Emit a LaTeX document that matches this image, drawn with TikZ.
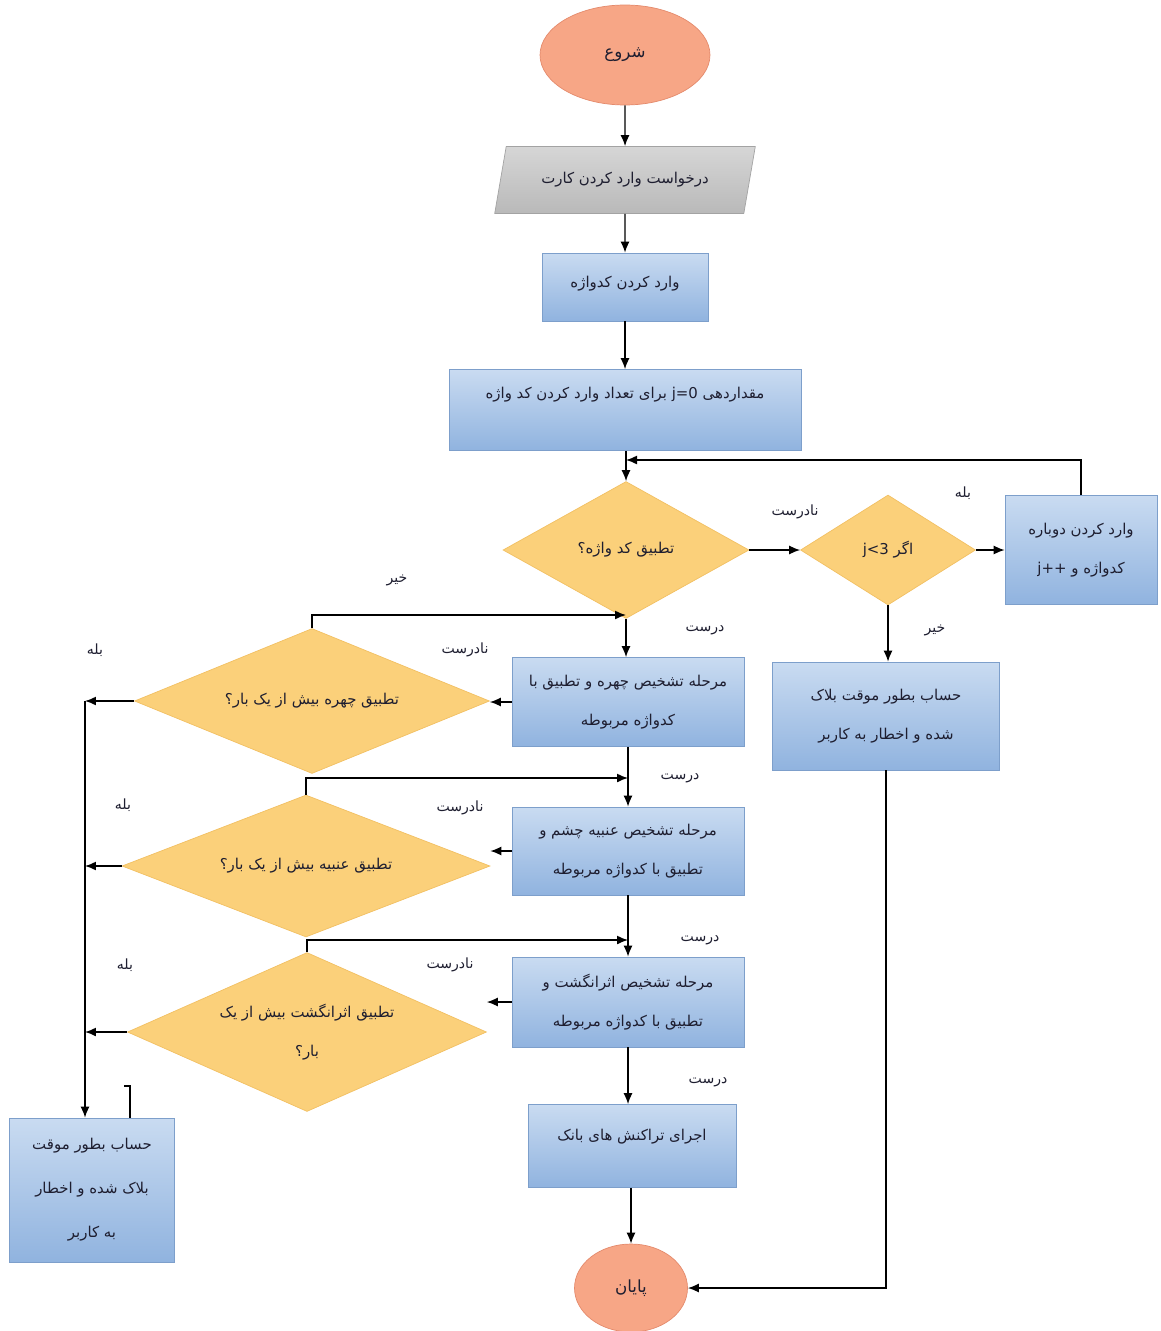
\documentclass[tikz,border=0pt]{standalone}
\usepackage{fontspec}
\usetikzlibrary{shapes.geometric,arrows.meta}
\newfontfamily\fa[Script=Arabic]{DejaVu Sans}
\TeXXeTstate=1
\newcommand{\fat}[1]{{\fa\beginR #1\endR}}
\definecolor{boxtop}{HTML}{C9DBF1}
\definecolor{boxbot}{HTML}{90B3DF}
\definecolor{boxline}{HTML}{7D9FCB}
\definecolor{decfill}{HTML}{FBD07A}
\definecolor{decline}{HTML}{F2C063}
\definecolor{termfill}{HTML}{F7A686}
\definecolor{termline}{HTML}{E48A6C}
\definecolor{iotop}{HTML}{D6D6D6}
\definecolor{iobot}{HTML}{B9B9B9}
\definecolor{ioline}{HTML}{A3A3A3}
\definecolor{ink}{HTML}{1E1E30}
\begin{document}
\begin{tikzpicture}[x=0.02cm,y=-0.02cm,
  every node/.style={text=ink},
  proc/.style={rectangle, draw=boxline, top color=boxtop, bottom color=boxbot, inner sep=2pt, align=center,
    font=\fontsize{8.5}{22}\selectfont},
  dec/.style={diamond, draw=decline, fill=decfill, inner sep=0pt, align=center,
    font=\fontsize{8.5}{22}\selectfont},
  term/.style={ellipse, draw=termline, fill=termfill, font=\fontsize{9.5}{12}\selectfont},
  io/.style={trapezium, trapezium left angle=72, trapezium right angle=108, trapezium stretches=true,
    draw=ioline, top color=iotop, bottom color=iobot, font=\fontsize{8.5}{12}\selectfont},
  arr/.style={-{Latex[length=0.22cm,width=0.18cm]}, line width=0.8pt},
  ln/.style={line width=0.8pt},
  lbl/.style={font=\fontsize{8}{10}\selectfont, inner sep=1pt}]
\useasboundingbox (0,0) rectangle (1160,1331);

% nodes
\node[term, minimum width=3.4cm, minimum height=2cm] (start) at (625,55) {\fat{شروع}};
\node[io, minimum width=5.22cm, minimum height=1.34cm] (card) at (625,180) {\fat{درخواست وارد کردن کارت}};
\node[proc, minimum width=3.32cm, minimum height=1.36cm, text depth=0.2cm] (pw) at (625,287) {\fat{وارد کردن کدواژه}};
\node[proc, minimum width=7.04cm, minimum height=1.62cm, text depth=0.68cm] (init) at (625,410)
  {\fat{مقداردهی \beginL j=0\endL{} برای تعداد وارد کردن کد واژه}};
\node[dec, aspect=1.8, minimum width=4.92cm, minimum height=2.74cm] (dec1) at (626,550) {\fat{تطبیق کد واژه؟}};
\node[dec, aspect=1.6, minimum width=3.5cm, minimum height=2.2cm] (dec2) at (888,550) {\fat{اگر \beginL j<3\endL}};
\node[proc, minimum width=3.04cm, minimum height=2.18cm] (again) at (1081,550)
  {\fat{وارد کردن دوباره}\\\fat{کدواژه و \beginL j++\endL}};
\node[proc, minimum width=4.54cm, minimum height=2.16cm] (block1) at (886,716)
  {\fat{حساب بطور موقت بلاک}\\\fat{شده و اخطار به کاربر}};
\node[proc, minimum width=4.64cm, minimum height=1.78cm] (face) at (628,702)
  {\fat{مرحله تشخیص چهره و تطبیق با}\\\fat{کدواژه مربوطه}};
\node[dec, aspect=2.45, minimum width=7.1cm, minimum height=2.9cm] (dec3) at (312,701) {\fat{تطبیق چهره بیش از یک بار؟}};
\node[proc, minimum width=4.64cm, minimum height=1.76cm] (iris) at (628,851)
  {\fat{مرحله تشخیص عنبیه چشم و}\\\fat{تطبیق با کدواژه مربوطه}};
\node[dec, aspect=2.6, minimum width=7.36cm, minimum height=2.84cm] (dec4) at (306,866) {\fat{تطبیق عنبیه بیش از یک بار؟}};
\node[proc, minimum width=4.64cm, minimum height=1.8cm] (finger) at (628,1002)
  {\fat{مرحله تشخیص اثرانگشت و}\\\fat{تطبیق با کدواژه مربوطه}};
\node[dec, aspect=2.26, minimum width=7.18cm, minimum height=3.18cm] (dec5) at (307,1032)
  {\fat{تطبیق اثرانگشت بیش از یک}\\\fat{بار؟}};
\node[proc, minimum width=4.16cm, minimum height=1.66cm, text depth=0.44cm] (bank) at (632,1146)
  {\fat{اجرای تراکنش های بانک}};
\node[term, minimum width=2.26cm, minimum height=1.76cm] (endn) at (631,1288) {\fat{پایان}};
\node[proc, minimum width=3.3cm, minimum height=2.88cm, font=\fontsize{8.5}{25}\selectfont] (block2) at (92,1190)
  {\fat{حساب بطور موقت}\\\fat{بلاک شده و اخطار}\\\fat{به کاربر}};

% helper coordinates
\coordinate (loop) at (626,460);
\coordinate (back1) at (626,615);
\coordinate (back2) at (628,778);
\coordinate (back3) at (628,940);
\coordinate (yesx) at (85,0);
\coordinate (stubA) at (124,1086);
\coordinate (stubB) at (130,1118);

% connectors
\draw[arr] (start) -- (card);
\draw[arr] (card) -- (pw);
\draw[arr] (pw) -- (init);
\draw[arr] (init.south -| dec1) -- (dec1.north);
\draw[arr] (again.north) |- (loop);
\draw[arr] (dec1.east) -- (dec2.west);
\draw[arr] (dec2.east) -- (again.west);
\draw[arr] (dec2.south) -- (block1.north -| dec2.south);
\draw[arr] (block1.south) |- (endn.east);
\draw[arr] (dec1.south) -- (face.north -| dec1.south);
\draw[arr] (face.west) -- (dec3.east |- face.west);
\draw[arr] (dec3.north) |- (back1);
\draw[arr] (dec3.west) -- (dec3.west -| yesx);
\draw[arr] (dec3.west -| yesx) -- (block2.north -| yesx);
\draw[arr] (face.south) -- (iris.north);
\draw[arr] (dec4.north) |- (back2);
\draw[arr] (iris.west) -- (dec4.east |- iris.west);
\draw[arr] (dec4.west) -- (dec4.west -| yesx);
\draw[arr] (iris.south) -- (finger.north);
\draw[arr] (dec5.north) |- (back3);
\draw[arr] (finger.west) -- (dec5.east |- finger.west);
\draw[arr] (dec5.west) -- (dec5.west -| yesx);
\draw[arr] (finger.south) -- (bank.north -| finger.south);
\draw[arr] (bank.south -| endn.north) -- (endn.north);
\draw[ln] (stubA) -| (stubB);

% labels
\node[lbl] (l1) at (795,512) {\fat{نادرست}};
\node[lbl] (l2) at (963,493) {\fat{بله}};
\node[lbl] (l3) at (935,630) {\fat{خیر}};
\node[lbl] (l4) at (705,630) {\fat{درست}};
\node[lbl] (l5) at (397,580) {\fat{خیر}};
\node[lbl] (l6) at (465,650) {\fat{نادرست}};
\node[lbl] (l7) at (95,650) {\fat{بله}};
\node[lbl] (l8) at (680,778) {\fat{درست}};
\node[lbl] (l9) at (460,808) {\fat{نادرست}};
\node[lbl] (l10) at (123,805) {\fat{بله}};
\node[lbl] (l11) at (700,940) {\fat{درست}};
\node[lbl] (l12) at (450,965) {\fat{نادرست}};
\node[lbl] (l13) at (125,965) {\fat{بله}};
\node[lbl] (l14) at (708,1082) {\fat{درست}};
\end{tikzpicture}
\end{document}
